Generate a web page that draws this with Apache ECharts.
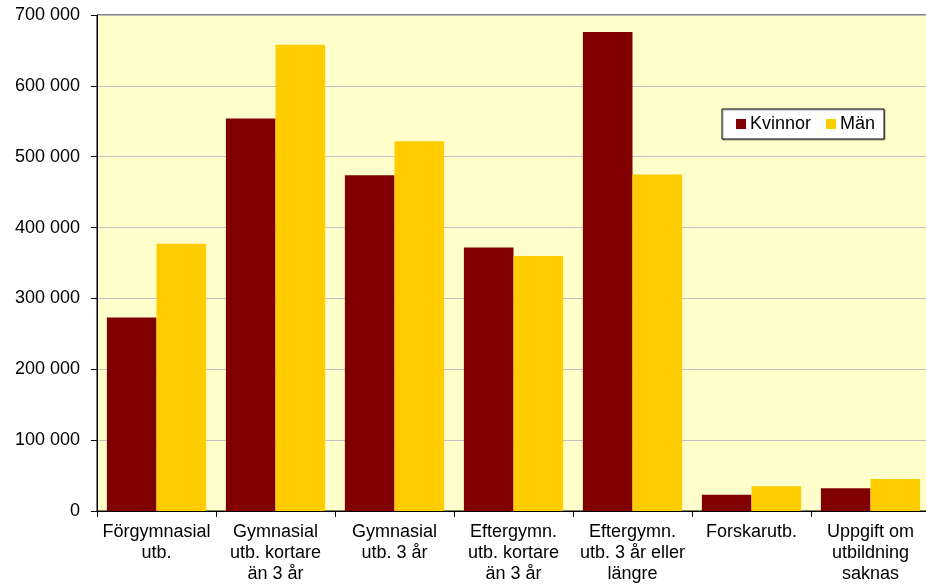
<!DOCTYPE html>
<html>
<head>
<meta charset="utf-8">
<script src="https://cdn.jsdelivr.net/npm/echarts@6/dist/echarts.min.js"></script>
<style>
html,body{margin:0;padding:0;background:#fff;}
#chart{width:926px;height:586px;}
</style>
</head>
<body>
<div id="chart"></div>
<script>
const categories = [
  "Förgymnasial\nutb.",
  "Gymnasial\nutb. kortare\nän 3 år",
  "Gymnasial\nutb. 3 år",
  "Eftergymn.\nutb. kortare\nän 3 år",
  "Eftergymn.\nutb. 3 år eller\nlängre",
  "Forskarutb.",
  "Uppgift om\nutbildning\nsaknas"
];
const kvinnor = [273000, 554000, 474000, 372000, 676000, 23000, 32000];
const man = [377000, 658000, 522000, 360000, 475000, 35000, 45000];
const seriesNames = ["Kvinnor", "Män"];

const FONT = "'Liberation Sans', Arial, sans-serif";
const chart = echarts.init(document.getElementById('chart'), null, {renderer: 'canvas'});
chart.setOption({
  animation: false,
  backgroundColor: '#ffffff',
  textStyle: {fontFamily: FONT, color: '#000'},
  grid: {
    left: 97, top: 15, width: 833, height: 496,
    outerBoundsMode: 'none',
    containLabel: false,
    show: true, backgroundColor: '#FFFFCC', borderColor: '#000', borderWidth: 1
  },
  legend: {
    data: seriesNames,
    left: 722, top: 109,
    orient: 'horizontal',
    padding: [6, 9, 6, 14],
    itemGap: 15,
    itemWidth: 10, itemHeight: 10,
    icon: 'rect',
    backgroundColor: '#fff',
    borderColor: '#000',
    borderWidth: 1,
    shadowColor: 'rgba(0,0,0,0.35)', shadowOffsetX: 1, shadowOffsetY: 1, shadowBlur: 1,
    textStyle: {fontFamily: FONT, fontSize: 18, color: '#000', padding: [0,0,0,-1]}
  },
  xAxis: {
    type: 'category',
    data: categories,
    axisLine: {lineStyle: {color: '#000', width: 1}},
    axisTick: {show: true, alignWithLabel: false, length: 6, inside: false, lineStyle: {color: '#000'}},
    axisLabel: {
      interval: 0, margin: 11, fontFamily: FONT, fontSize: 18, color: '#000',
      lineHeight: 21, align: 'center'
    },
    splitLine: {show: false}
  },
  yAxis: {
    type: 'value',
    min: 0, max: 700000, interval: 100000,
    axisLine: {show: true, lineStyle: {color: '#000', width: 1}},
    axisTick: {show: true, length: 6, lineStyle: {color: '#000'}},
    axisLabel: {
      margin: 17, fontFamily: FONT, fontSize: 18, color: '#000',
      formatter: function (v) { return String(v).replace(/\B(?=(\d{3})+(?!\d))/g, ' '); }
    },
    splitLine: {show: true, lineStyle: {color: '#C0C0C0', width: 1}}
  },
  series: [
    {
      name: seriesNames[0], type: 'bar', data: kvinnor,
      barGap: '0%', barCategoryGap: '16.6%',
      itemStyle: {color: '#800000'}
    },
    {
      name: seriesNames[1], type: 'bar', data: man,
      barGap: '0%', barCategoryGap: '16.6%',
      itemStyle: {color: '#FFCC00'}
    }
  ]
});
</script>
</body>
</html>
